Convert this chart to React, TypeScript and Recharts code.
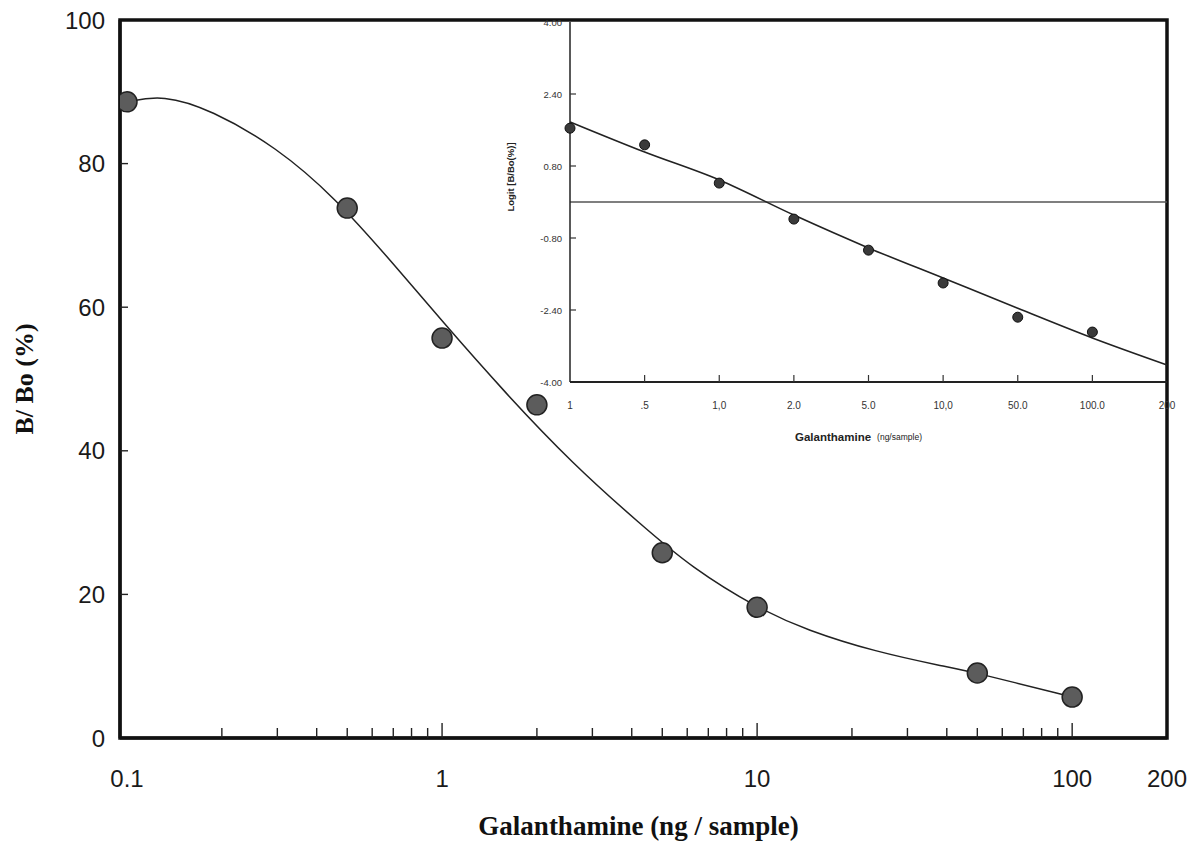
import { ComposedChart, Line, Scatter, XAxis, YAxis, ReferenceArea, ReferenceLine } from "recharts";

// main plot: B/Bo (%) vs galanthamine (ng/sample), log x
const doseValues = [0.1, 0.5, 1, 2, 5, 10, 50, 100];
const bBoValues = [88.6, 73.8, 55.7, 46.4, 25.8, 18.2, 9.05, 5.7];

// fitted curve
const curveDose = [0.1, 0.13, 0.185, 0.298, 0.457, 0.712, 0.993, 1.591, 2.596, 4.28, 6.21, 10, 14.4, 23.8, 39.0, 50, 100];
const curveBBo = [88.6, 89.6, 87.5, 82.3, 75.3, 65.7, 58.2, 48.0, 38.2, 29.7, 23.7, 18.1, 15.0, 12.0, 10.0, 9.05, 5.7];

const xDomain = [0.095, 200];
const xMajorTicks = [0.1, 1, 10, 100, 200];
const xMinorTicks = [0.2, 0.3, 0.4, 0.5, 0.6, 0.7, 0.8, 0.9, 2, 3, 4, 5, 6, 7, 8, 9, 20, 30, 40, 50, 60, 70, 80, 90];
const yTicks = [0, 20, 40, 60, 80, 100];

// inset: logit plot
const insetLabels = ["1", ".5", "1,0", "2.0", "5.0", "10,0", "50.0", "100.0", "200"];
const insetLogit = [1.64, 1.27, 0.42, -0.38, -1.07, -1.8, -2.56, -2.89];
const insetFit = [1.78, 1.11, 0.49, -0.29, -1.02, -1.69, -2.36, -3.02, -3.62];
const insetYTicks = [-4, -2.4, -0.8, 0.8, 2.4, 4];

const dots = doseValues.map((x, i) => ({ x, y: bBoValues[i] }));
const curve = curveDose.map((x, i) => ({ x, y: curveBBo[i] }));
const xTicks = [...xMajorTicks, ...xMinorTicks].sort((a, b) => a - b);

const insetDots = insetLogit.map((y, i) => ({ i, y }));
const insetLine = insetFit.map((y, i) => ({ i, y }));
const insetIdx = insetLabels.map((_, i) => i);

const SANS = "'Liberation Sans', Arial, sans-serif";
const SERIF = "'Liberation Serif', 'Times New Roman', serif";

const XTick = (props: any) => {
  const { x, y, payload } = props;
  const v = payload.value;
  const isMajor = xMajorTicks.includes(v);
  let len = 10;
  if (v === 1 || v === 10 || v === 100) len = 15;
  if (v === 0.1 || v === 200) len = 0;
  return (
    <g>
      {len > 0 && <line x1={x} x2={x} y1={y} y2={y - len} stroke="#222" strokeWidth={1.4} />}
      {isMajor && (
        <text x={x} y={y + 40} textAnchor="middle" dominantBaseline="central" fontSize={24} fontFamily={SANS} fill="#1a1a1a">
          {String(v)}
        </text>
      )}
    </g>
  );
};

const YTick = (props: any) => {
  const { x, y, payload } = props;
  const v = payload.value;
  return (
    <g>
      {v > 0 && v < 100 && <line x1={x} x2={x + 8} y1={y} y2={y} stroke="#222" strokeWidth={1.4} />}
      <text x={x - 15} y={y} textAnchor="end" dominantBaseline="central" fontSize={24} fontFamily={SANS} fill="#1a1a1a">
        {v}
      </text>
    </g>
  );
};

const XTitle = (props: any) => {
  const { viewBox } = props;
  const cx = viewBox.x + viewBox.width / 2 - 5;
  return (
    <text x={cx} y={826} textAnchor="middle" dominantBaseline="central" fontSize={27} fontWeight="bold" fontFamily={SERIF} fill="#111">
      Galanthamine (ng / sample)
    </text>
  );
};

const YTitle = (props: any) => {
  const { viewBox } = props;
  const cx = 24;
  const cy = viewBox.y + viewBox.height / 2;
  return (
    <text x={cx} y={cy} transform={`rotate(-90 ${cx} ${cy})`} textAnchor="middle" dominantBaseline="central" fontSize={26} fontWeight="bold" fontFamily={SERIF} fill="#111">
      B/ Bo (%)
    </text>
  );
};

const InsetXTick = (props: any) => {
  const { x, y, payload } = props;
  const i = payload.value;
  return (
    <g>
      {i > 0 && i < 8 && <line x1={x} x2={x} y1={y} y2={y - 7} stroke="#333" strokeWidth={1.2} />}
      <text x={x} y={y + 23} textAnchor="middle" dominantBaseline="central" fontSize={10} fontFamily={SANS} fill="#333">
        {insetLabels[i]}
      </text>
    </g>
  );
};

const InsetYTick = (props: any) => {
  const { x, y, payload } = props;
  const v = payload.value;
  return (
    <g>
      {Math.abs(v) < 4 && <line x1={x} x2={x + 6} y1={y} y2={y} stroke="#333" strokeWidth={1.2} />}
      <text x={x - 8} y={y} textAnchor="end" dominantBaseline="central" fontSize={9.5} fontFamily={SANS} fill="#333">
        {v.toFixed(2)}
      </text>
    </g>
  );
};

const InsetXTitle = (props: any) => {
  const { viewBox } = props;
  const cx = viewBox.x + viewBox.width / 2;
  const y = viewBox.y + 55;
  return (
    <text x={cx - 10} y={y} textAnchor="middle" dominantBaseline="central" fontFamily={SANS} fill="#222">
      <tspan fontSize={11.5} fontWeight="bold">Galanthamine</tspan>
      <tspan fontSize={8.5} dx={6}>(ng/sample)</tspan>
    </text>
  );
};

const InsetYTitle = (props: any) => {
  const { viewBox } = props;
  const cx = 20;
  const cy = viewBox.y + viewBox.height / 2 - 25;
  return (
    <text x={cx} y={cy} transform={`rotate(-90 ${cx} ${cy})`} textAnchor="middle" dominantBaseline="central" fontSize={9.5} fontWeight="bold" fontFamily={SANS} fill="#222">
      Logit [B/Bo(%)]
    </text>
  );
};

const bigDot = (p: any) => <circle cx={p.cx} cy={p.cy} r={10} fill="#5c5c5c" stroke="#222" strokeWidth={1.5} />;
const smallDot = (p: any) => <circle cx={p.cx} cy={p.cy} r={5} fill="#3a3a3a" stroke="#111" strokeWidth={1} />;

export default function App() {
  return (
    <div style={{ position: "absolute", left: 0, top: 0, width: 1193, height: 846, background: "#fff", overflow: "hidden" }}>
      <ComposedChart width={1193} height={846} margin={{ top: 20, right: 26, bottom: 0, left: 0 }}>
        <XAxis
          dataKey="x"
          type="number"
          scale="log"
          domain={xDomain}
          allowDataOverflow
          ticks={xTicks}
          interval={0}
          tick={<XTick />}
          tickLine={false}
          tickSize={0}
          tickMargin={0}
          axisLine={{ stroke: "#111", strokeWidth: 3 }}
          height={108}
          label={<XTitle />}
        />
        <YAxis
          type="number"
          domain={[0, 100]}
          ticks={yTicks}
          interval={0}
          tick={<YTick />}
          tickLine={false}
          tickSize={0}
          tickMargin={0}
          axisLine={{ stroke: "#111", strokeWidth: 3 }}
          width={120}
          label={<YTitle />}
        />
        <ReferenceArea x1={xDomain[0]} x2={xDomain[1]} y1={0} y2={100} fill="none" stroke="#111" strokeWidth={3.5} />
        <Line data={curve} dataKey="y" type="basis" stroke="#222" strokeWidth={1.5} dot={false} activeDot={false} isAnimationActive={false} />
        <Scatter data={dots} dataKey="y" shape={bigDot} isAnimationActive={false} />
      </ComposedChart>

      <div style={{ position: "absolute", left: 490, top: 12 }}>
        <ComposedChart width={690} height={440} margin={{ top: 10, right: 13, bottom: 0, left: 0 }}>
          <XAxis
            dataKey="i"
            type="number"
            domain={[0, 8]}
            ticks={insetIdx}
            interval={0}
            tick={<InsetXTick />}
            tickLine={false}
            tickSize={0}
            tickMargin={0}
            axisLine={{ stroke: "#222", strokeWidth: 2 }}
            height={70}
            label={<InsetXTitle />}
          />
          <YAxis
            type="number"
            domain={[-4, 4]}
            ticks={insetYTicks}
            interval={0}
            tick={<InsetYTick />}
            tickLine={false}
            tickSize={0}
            tickMargin={0}
            axisLine={{ stroke: "#222", strokeWidth: 1.5 }}
            width={80}
            label={<InsetYTitle />}
          />
          <ReferenceLine y={0} stroke="#555" strokeWidth={1.5} />
          <Line data={insetLine} dataKey="y" type="monotone" stroke="#222" strokeWidth={1.6} dot={false} activeDot={false} isAnimationActive={false} />
          <Scatter data={insetDots} dataKey="y" shape={smallDot} isAnimationActive={false} />
        </ComposedChart>
      </div>
    </div>
  );
}
